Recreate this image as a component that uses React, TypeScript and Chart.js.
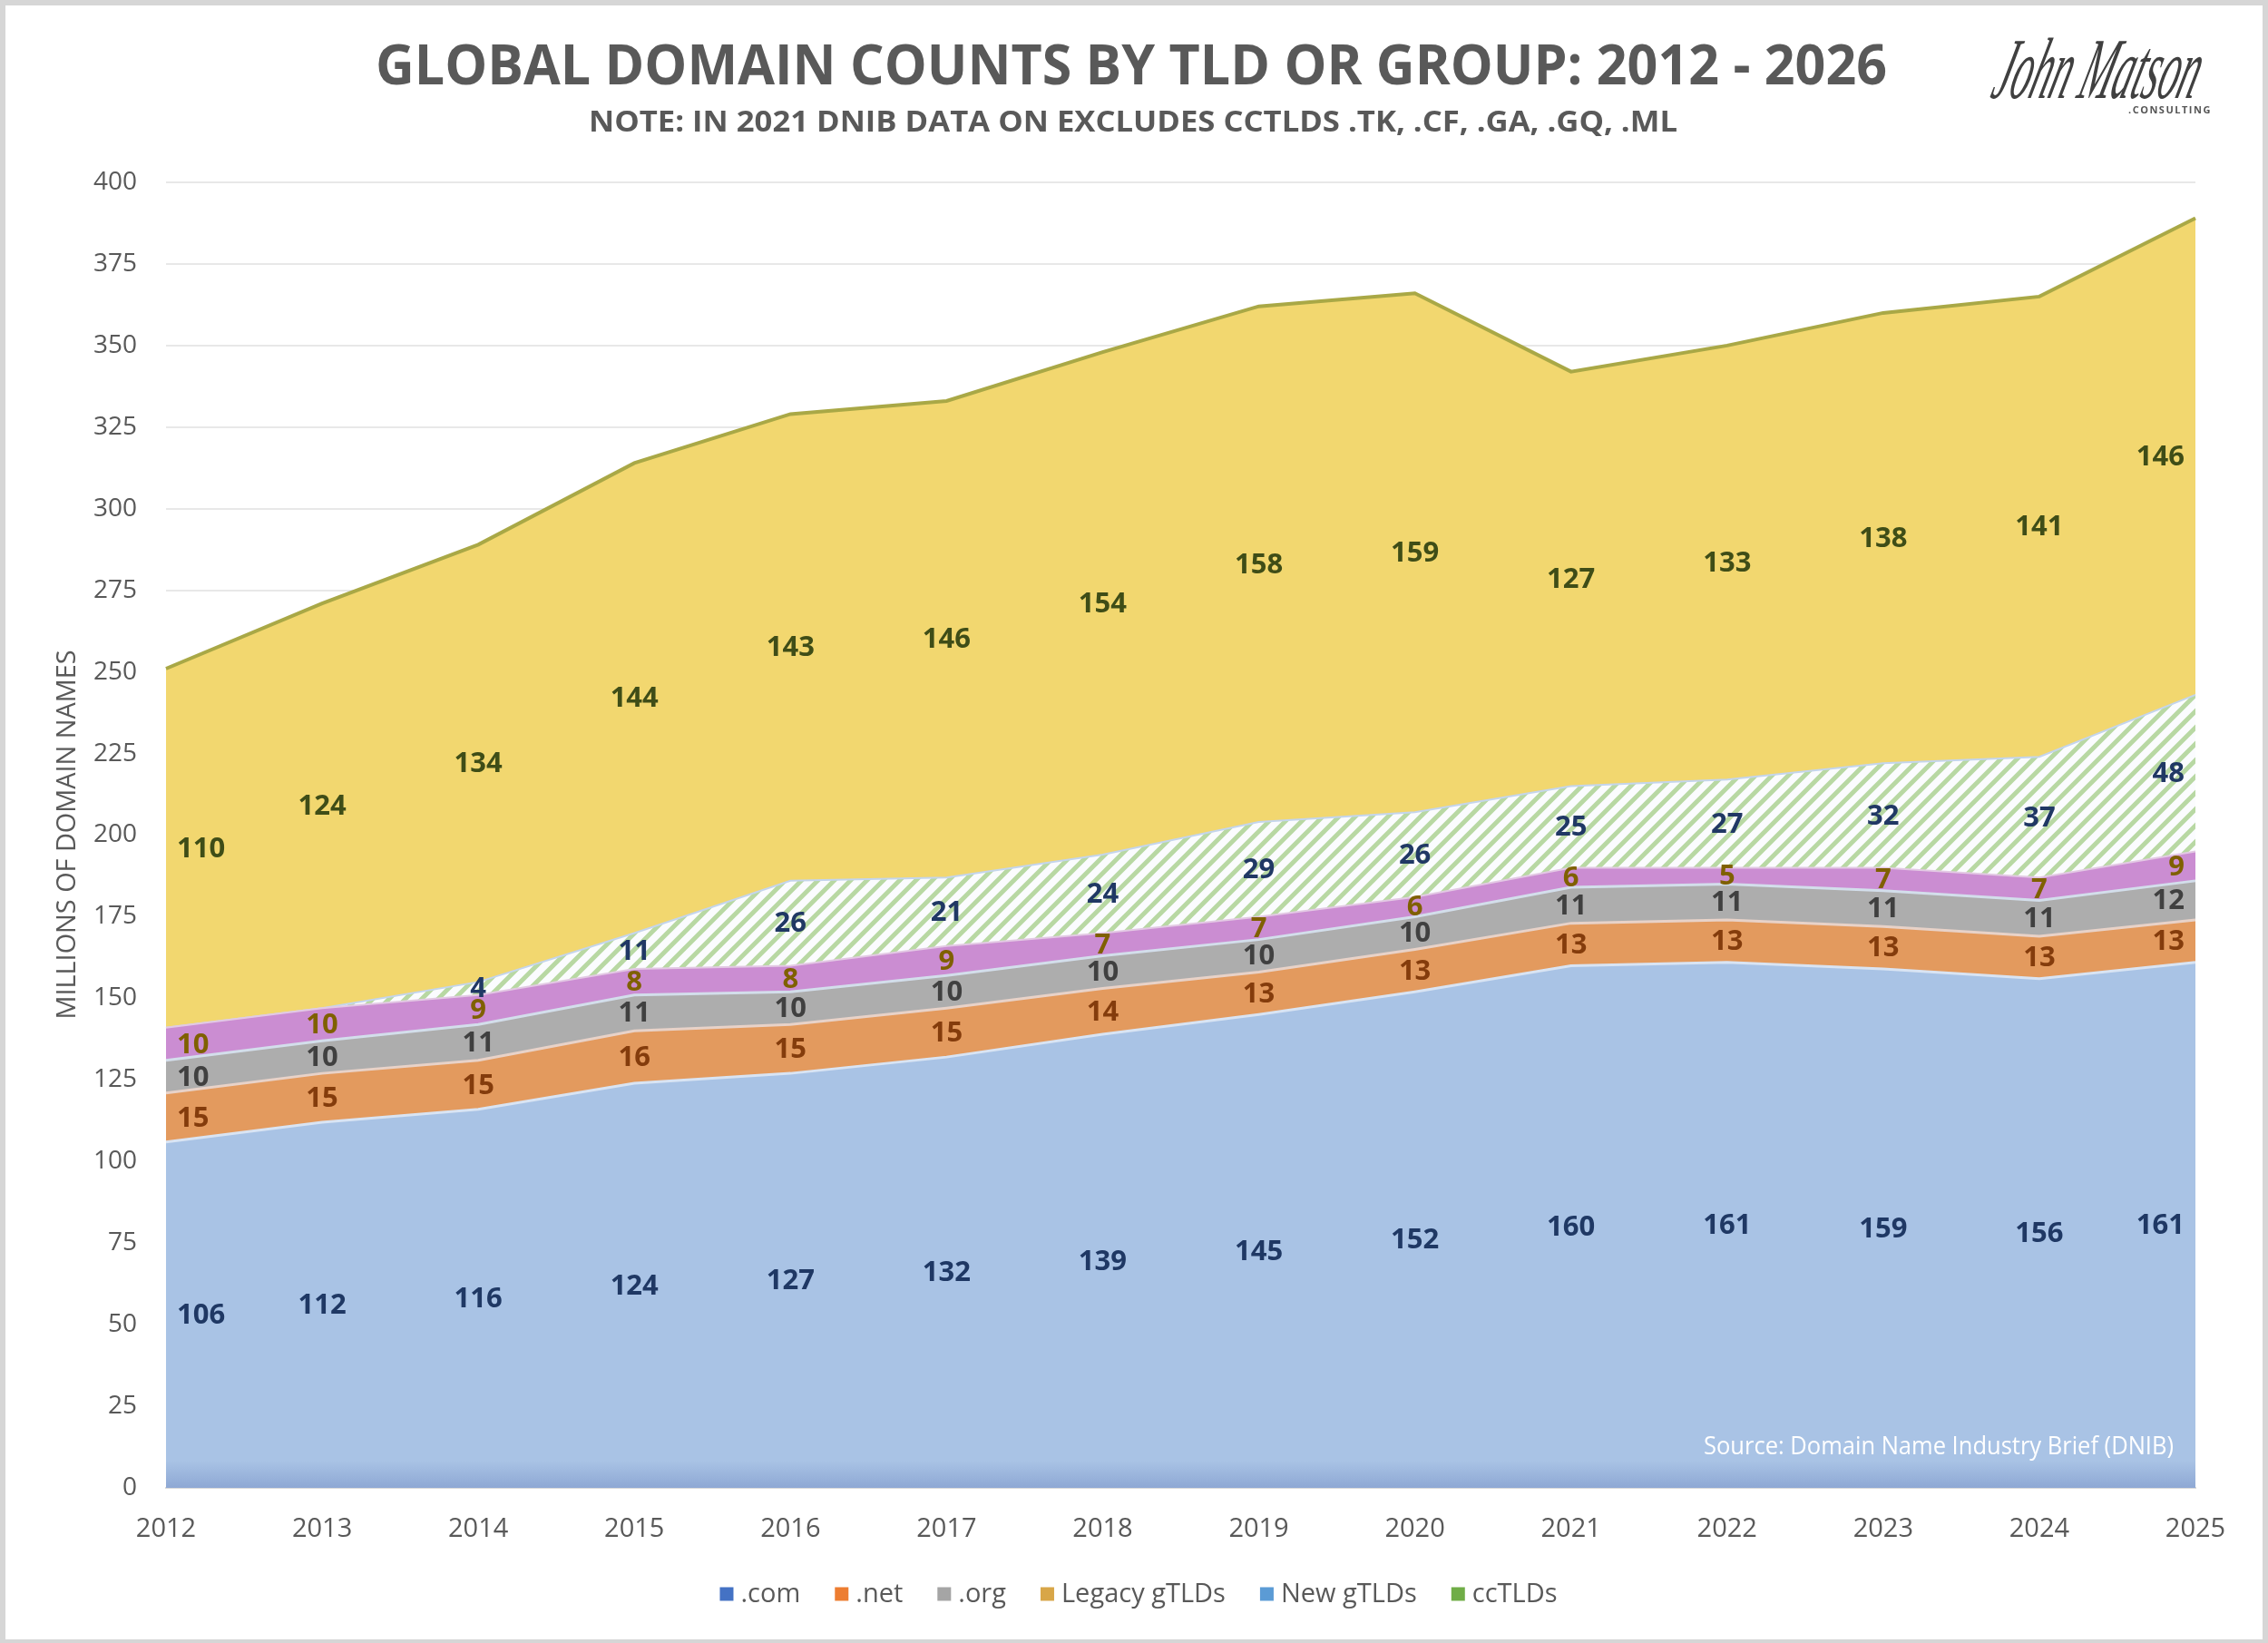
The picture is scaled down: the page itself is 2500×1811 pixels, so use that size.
import React, { useEffect, useRef } from 'react';
import { Chart, registerables } from 'chart.js';

Chart.register(...registerables);

// ---------- data ----------
const years = ['2012', '2013', '2014', '2015', '2016', '2017', '2018', '2019', '2020', '2021', '2022', '2023', '2024', '2025'];
const comValues = [106, 112, 116, 124, 127, 132, 139, 145, 152, 160, 161, 159, 156, 161];
const netValues = [15, 15, 15, 16, 15, 15, 14, 13, 13, 13, 13, 13, 13, 13];
const orgValues = [10, 10, 11, 11, 10, 10, 10, 10, 10, 11, 11, 11, 11, 12];
const legacyValues = [10, 10, 9, 8, 8, 9, 7, 7, 6, 6, 5, 7, 7, 9];
const newGtldValues = [0, 0, 4, 11, 26, 21, 24, 29, 26, 25, 27, 32, 37, 48];
const ccTldValues = [110, 124, 134, 144, 143, 146, 154, 158, 159, 127, 133, 138, 141, 146];
const seriesNames = ['.com', '.net', '.org', 'Legacy gTLDs', 'New gTLDs', 'ccTLDs'];
const yTicks = { min: 0, max: 400, step: 25 };

const TITLE = 'GLOBAL DOMAIN COUNTS BY TLD OR GROUP: 2012 - 2026';
const SUBTITLE = 'NOTE: IN 2021 DNIB DATA ON EXCLUDES CCTLDS .TK, .CF, .GA, .GQ, .ML';
const Y_TITLE = 'MILLIONS OF DOMAIN NAMES';
const SOURCE = 'Source: Domain Name Industry Brief (DNIB)';

// ---------- styles ----------
const labelColors = ['#1F3864', '#843C0C', '#404040', '#7F6000', '#203864', '#3F4D17'];
const legendColors = ['#4472C4', '#ED7D31', '#A5A5A5', '#D8A648', '#5B9BD5', '#70AD47'];
const TEXT_GRAY = '#595959';
const FONT = '"Open Sans", "Noto Sans", sans-serif';

function makeHatch(): CanvasPattern | string {
  const s = 18;
  const c = document.createElement('canvas');
  c.width = s;
  c.height = s;
  const g = c.getContext('2d');
  if (!g) return '#DDEBD2';
  g.fillStyle = '#FBFCFE';
  g.fillRect(0, 0, s, s);
  g.strokeStyle = '#B8D8A3';
  g.lineWidth = 5;
  g.beginPath();
  for (const k of [0, s, 2 * s]) {
    g.moveTo(-2, k + 2);
    g.lineTo(k + 2, -2);
  }
  g.stroke();
  const p = g.createPattern(c, 'repeat');
  return p || '#DDEBD2';
}

function fitText(
  ctx: CanvasRenderingContext2D,
  text: string,
  x: number,
  baseline: number,
  targetW: number,
  font: string,
  color: string,
  align: 'center' | 'right' | 'left'
) {
  ctx.save();
  ctx.font = font;
  const w = ctx.measureText(text).width;
  const sx = targetW / w;
  ctx.translate(x, baseline);
  ctx.scale(sx, 1);
  ctx.fillStyle = color;
  ctx.textAlign = align;
  ctx.textBaseline = 'alphabetic';
  ctx.fillText(text, 0, 0);
  ctx.restore();
}

export default function App() {
  const ref = useRef<HTMLCanvasElement>(null);

  useEffect(() => {
    const canvas = ref.current;
    if (!canvas) return;
    const hatch = makeHatch();
    const allSeries = [comValues, netValues, orgValues, legacyValues, newGtldValues, ccTldValues];

    const decor = {
      id: 'decor',
      beforeDraw(chart: any) {
        const ctx: CanvasRenderingContext2D = chart.ctx;
        ctx.save();
        ctx.fillStyle = '#D6D6D6';
        ctx.fillRect(0, 0, chart.width, chart.height);
        ctx.fillStyle = '#FFFFFF';
        ctx.fillRect(6, 6, chart.width - 12, chart.height - 10);
        ctx.restore();
      },
      afterDatasetsDraw(chart: any) {
        const ctx: CanvasRenderingContext2D = chart.ctx;
        const xs = chart.scales.x;
        const ys = chart.scales.y;
        const area = chart.chartArea;
        ctx.save();
        ctx.font = 'bold 31px ' + FONT;
        ctx.textAlign = 'center';
        ctx.textBaseline = 'middle';
        const cum = years.map(() => 0);
        allSeries.forEach((vals, si) => {
          vals.forEach((v, i) => {
            const base = cum[i];
            cum[i] += v;
            if (!v) return;
            const txt = String(v);
            const w = ctx.measureText(txt).width;
            let px = xs.getPixelForValue(i);
            px = Math.max(area.left + 12 + w / 2, Math.min(area.right - 12 - w / 2, px));
            const py = ys.getPixelForValue(base + v / 2);
            ctx.fillStyle = labelColors[si];
            ctx.fillText(txt, px, py + 1);
          });
        });
        ctx.restore();

        // source note inside plot
        fitText(ctx, SOURCE, area.right - 24, 1603, 518, '28px ' + FONT, '#FFFFFF', 'right');
      },
      afterDraw(chart: any) {
        const ctx: CanvasRenderingContext2D = chart.ctx;
        // titles
        fitText(ctx, TITLE, 1247, 93, 1666, 'bold 60px ' + FONT, TEXT_GRAY, 'center');
        fitText(ctx, SUBTITLE, 1249, 145, 1200, 'bold 32px ' + FONT, TEXT_GRAY, 'center');

        // y axis title
        ctx.save();
        ctx.translate(83, 920);
        ctx.rotate(-Math.PI / 2);
        ctx.font = '30px ' + FONT;
        const yw = ctx.measureText(Y_TITLE).width;
        ctx.scale(407 / yw, 1);
        ctx.fillStyle = TEXT_GRAY;
        ctx.textAlign = 'center';
        ctx.textBaseline = 'alphabetic';
        ctx.fillText(Y_TITLE, 0, 0);
        ctx.restore();

        // legend
        ctx.save();
        ctx.font = '29px ' + FONT;
        const box = 15;
        const gapBox = 8;
        const gapItem = 38;
        const widths = seriesNames.map((n) => ctx.measureText(n).width);
        const total = widths.reduce((a, w) => a + box + gapBox + w, 0) + gapItem * (seriesNames.length - 1);
        let lx = 1255 - total / 2;
        const ly = 1757;
        ctx.textBaseline = 'middle';
        ctx.textAlign = 'left';
        seriesNames.forEach((n, i) => {
          ctx.fillStyle = legendColors[i];
          ctx.fillRect(lx, ly - box / 2, box, box);
          ctx.fillStyle = TEXT_GRAY;
          ctx.fillText(n, lx + box + gapBox, ly + 1);
          lx += box + gapBox + widths[i] + gapItem;
        });
        ctx.restore();

        // signature logo
        ctx.save();
        ctx.translate(2305, 108);
        ctx.transform(1, 0, -0.3, 1, 0, 0);
        ctx.font = 'italic 64px "Liberation Serif", serif';
        const sw = ctx.measureText('John Matson').width;
        ctx.scale(225 / sw, 1.5);
        ctx.fillStyle = '#404040';
        ctx.textAlign = 'center';
        ctx.fillText('John Matson', 0, 0);
        ctx.restore();
        ctx.save();
        ctx.font = 'bold 11px ' + FONT;
        ctx.fillStyle = '#555555';
        ctx.textAlign = 'left';
        ctx.textBaseline = 'middle';
        const letters = '.CONSULTING';
        let cx = 2346;
        for (const ch of letters) {
          ctx.fillText(ch, cx, 122);
          cx += ctx.measureText(ch).width + 1.5;
        }
        ctx.restore();
      },
    };

    const comFill = (c: any) => {
      const area = c.chart.chartArea;
      if (!area) return '#A9C3E5';
      const g = c.chart.ctx.createLinearGradient(0, area.bottom, 0, area.bottom - 30);
      g.addColorStop(0, '#8EA8D4');
      g.addColorStop(1, '#A9C3E5');
      return g;
    };

    const chart = new Chart(canvas, {
      type: 'line',
      data: {
        labels: years,
        datasets: [
          { label: seriesNames[0], data: comValues, fill: 'origin', backgroundColor: comFill, borderColor: '#D9E4F3', borderWidth: 3 },
          { label: seriesNames[1], data: netValues, fill: '-1', backgroundColor: '#E39A5E', borderColor: '#E8D2C8', borderWidth: 3 },
          { label: seriesNames[2], data: orgValues, fill: '-1', backgroundColor: '#ADADAD', borderColor: '#D3DEEB', borderWidth: 3 },
          { label: seriesNames[3], data: legacyValues, fill: '-1', backgroundColor: '#CB8DD2', borderColor: '#E3C9E4', borderWidth: 2 },
          { label: seriesNames[4], data: newGtldValues, fill: '-1', backgroundColor: hatch as any, borderColor: '#C4D5EC', borderWidth: 2 },
          { label: seriesNames[5], data: ccTldValues, fill: '-1', backgroundColor: '#F2D76F', borderColor: '#A9A846', borderWidth: 4 },
        ],
      },
      options: {
        responsive: false,
        devicePixelRatio: 1,
        animation: false,
        events: [],
        layout: { padding: { left: 0, right: 80, top: 201, bottom: 91 } },
        elements: { point: { radius: 0 }, line: { tension: 0 } },
        plugins: {
          legend: { display: false },
          title: { display: false },
          tooltip: { enabled: false },
        },
        scales: {
          x: {
            type: 'category',
            offset: false,
            grid: { display: false, drawTicks: false },
            border: { display: true, color: '#D9D9D9', width: 2 },
            ticks: { color: TEXT_GRAY, font: { family: FONT, size: 29 }, padding: 28, maxRotation: 0, autoSkip: false },
            afterFit: (s: any) => {
              s.height = 80;
            },
          },
          y: {
            stacked: true,
            min: yTicks.min,
            max: yTicks.max,
            grid: { color: '#E8E8E8', lineWidth: 2, drawTicks: false },
            border: { display: false },
            ticks: { stepSize: yTicks.step, color: TEXT_GRAY, font: { family: FONT, size: 28 }, padding: 32 },
            afterFit: (s: any) => {
              s.width = 183;
            },
          },
        },
      },
      plugins: [decor],
    });

    return () => chart.destroy();
  }, []);

  return (
    <div style={{ position: 'absolute', left: 0, top: 0, width: 2500, height: 1811 }}>
      <canvas ref={ref} width={2500} height={1811} style={{ display: 'block', width: 2500, height: 1811 }} />
    </div>
  );
}
